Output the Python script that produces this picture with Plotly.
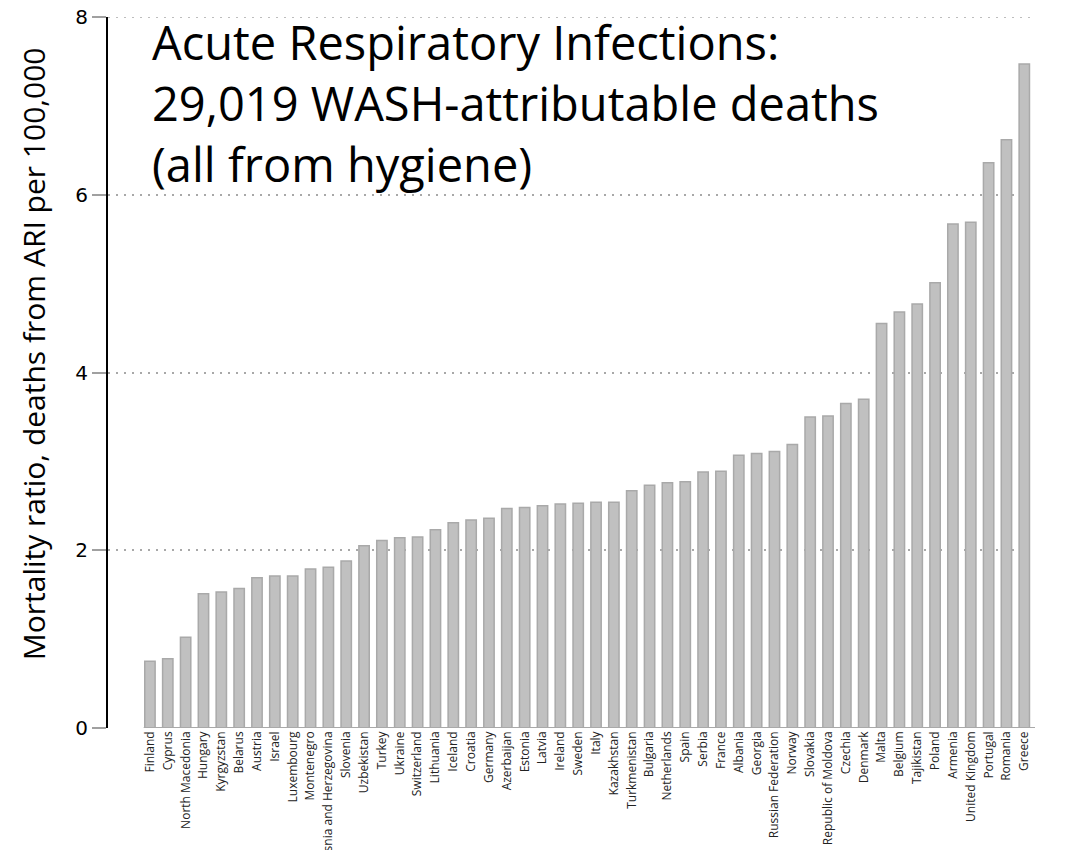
import plotly.graph_objects as go

countries = ["Finland", "Cyprus", "North Macedonia", "Hungary", "Kyrgyzstan", "Belarus", "Austria",
             "Israel", "Luxembourg", "Montenegro", "Bosnia and Herzegovina", "Slovenia", "Uzbekistan",
             "Turkey", "Ukraine", "Switzerland", "Lithuania", "Iceland", "Croatia", "Germany",
             "Azerbaijan", "Estonia", "Latvia", "Ireland", "Sweden", "Italy", "Kazakhstan",
             "Turkmenistan", "Bulgaria", "Netherlands", "Spain", "Serbia", "France", "Albania",
             "Georgia", "Russian Federation", "Norway", "Slovakia", "Republic of Moldova", "Czechia",
             "Denmark", "Malta", "Belgium", "Tajikistan", "Poland", "Armenia", "United Kingdom",
             "Portugal", "Romania", "Greece"]

mortality = [0.75, 0.78, 1.02, 1.51, 1.53, 1.57, 1.69, 1.71, 1.71, 1.79, 1.81, 1.88, 2.05,
             2.11, 2.14, 2.15, 2.23, 2.31, 2.34, 2.36, 2.47, 2.48, 2.50, 2.52, 2.53, 2.54, 2.54,
             2.67, 2.73, 2.76, 2.77, 2.88, 2.89, 3.07, 3.09, 3.11, 3.19, 3.50, 3.51, 3.65, 3.70,
             4.55, 4.68, 4.77, 5.01, 5.67, 5.69, 6.36, 6.62, 7.47]

y_ticks = [0, 2, 4, 6, 8]
y_ticktext = ["0", "2", "4", "6", "8"]
title_lines = ["Acute Respiratory Infections:", "29,019 WASH-attributable deaths", "(all from hygiene)"]
y_title = "Mortality ratio, deaths from ARI per 100,000"

idx = list(range(len(countries)))

fig = go.Figure()
fig.add_trace(go.Bar(
    x=idx, y=mortality, width=0.58,
    marker=dict(color="#c0c0c0", line=dict(color="#a9a9a9", width=1.5)),
    hoverinfo="skip",
))

# baseline under bars
fig.add_shape(type="line", xref="x", yref="y", x0=-0.35, x1=len(countries) - 0.4, y0=0, y1=0,
              line=dict(color="#a9a9a9", width=2), layer="above")
# top dotted gridline (plotly drops the grid line at the range edge)
fig.add_shape(type="line", xref="paper", yref="y", x0=0, x1=1, y0=y_ticks[-1], y1=y_ticks[-1],
              line=dict(color="#a8a8a8", width=1.5, dash="2px,6px"), layer="below")

fig.update_layout(
    width=1060, height=842,
    margin=dict(l=100, r=33, t=9, b=122),
    paper_bgcolor="white", plot_bgcolor="white",
    showlegend=False,
    font=dict(family="Open Sans, DejaVu Sans, sans-serif", color="black"),
    annotations=[
        dict(
            text="<br>".join(title_lines), xref="paper", yref="paper",
            x=0.045, y=1.012, xanchor="left", yanchor="top", align="left", showarrow=False,
            font=dict(size=47, family="Open Sans, sans-serif", color="black"),
        ),
        dict(
            text=y_title, xref="paper", yref="paper", textangle=-90,
            x=-0.081, y=0.527, xanchor="center", yanchor="middle", showarrow=False,
            font=dict(size=30, family="Open Sans, sans-serif", color="black"),
        ),
    ],
)

fig.update_xaxes(
    range=[-2.35, len(countries) - 0.4],
    tickmode="array", tickvals=idx, ticktext=countries,
    tickangle=-90, tickfont=dict(size=12, color="#222"),
    showline=False, showgrid=False, ticks="", zeroline=False,
    automargin=False,
)
fig.update_yaxes(
    range=[0, 8], tickmode="array", tickvals=y_ticks, ticktext=y_ticktext,
    tickfont=dict(size=20, color="black", family="DejaVu Sans, sans-serif"),
    ticks="outside", ticklen=14, tickcolor="#a0a0a0", tickwidth=1.5,
    ticklabeloverflow="allow",
    showline=True, linecolor="black", linewidth=2,
    showgrid=True, gridcolor="#a8a8a8", griddash="2px,6px", gridwidth=1.5,
    zeroline=False,
    automargin=False,
)

fig.write_html("out.html")
